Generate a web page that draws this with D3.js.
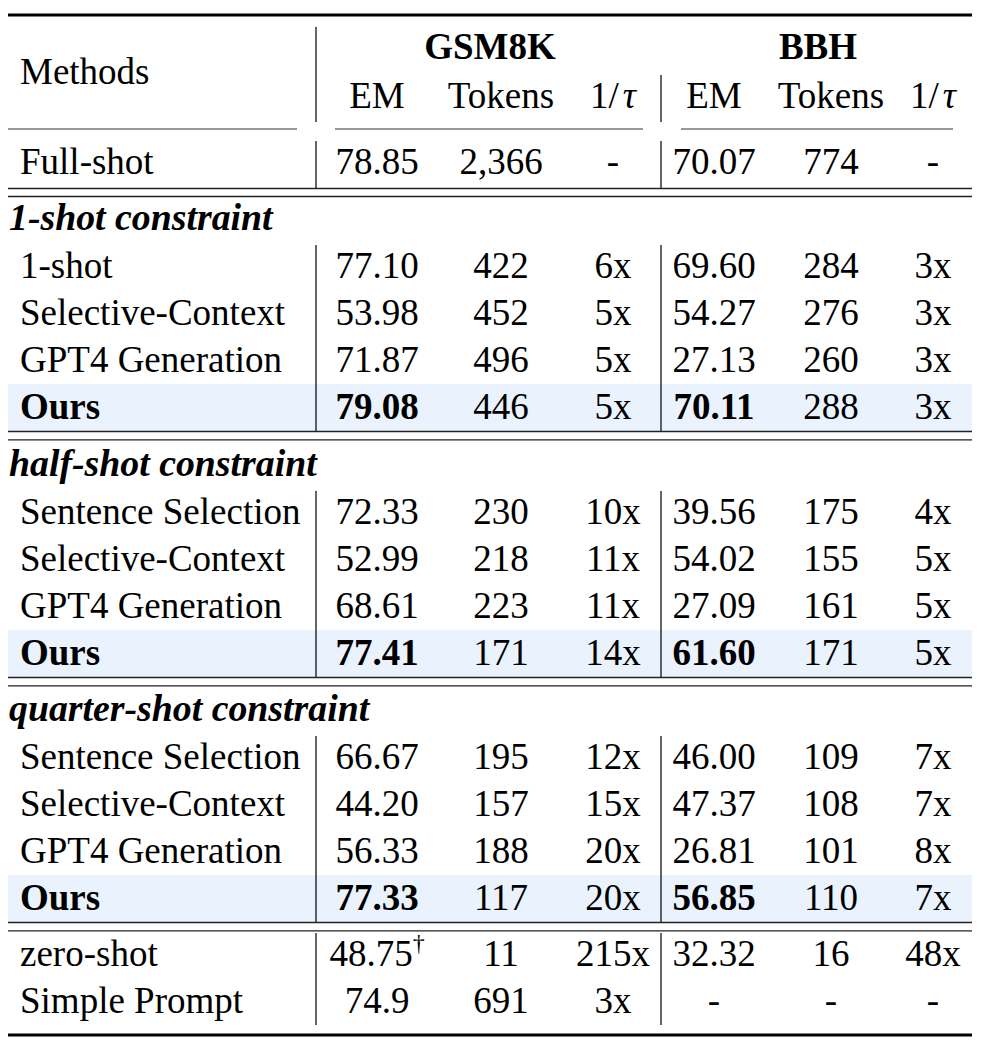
<!DOCTYPE html>
<html>
<head>
<meta charset="utf-8">
<script src="https://cdn.jsdelivr.net/npm/d3@7"></script>
<style>
  html, body { margin: 0; padding: 0; background: #fff; }
  svg { display: block; }
  text { font-family: "Liberation Serif", "Times New Roman", serif; fill: #000; }
</style>
</head>
<body>
<svg id="chart" width="990" height="1047"></svg>
<script>
// ---------------- DATA ----------------
const datasets = ["GSM8K", "BBH"];
const metrics = ["EM", "Tokens", "1/τ"];
const columnKeys = ["gEM", "gTok", "gRatio", "bEM", "bTok", "bRatio"];

const fullShotLabel = "Full-shot";
const fullShotValues = ["78.85", "2,366", "-", "70.07", "774", "-"];

const sectionTitles = ["1-shot constraint", "half-shot constraint", "quarter-shot constraint"];

const oneShotMethods = ["1-shot", "Selective-Context", "GPT4 Generation", "Ours"];
const oneShotGsmEM = [77.10, 53.98, 71.87, 79.08];
const oneShotGsmTokens = [422, 452, 496, 446];
const oneShotGsmRatio = [6, 5, 5, 5];
const oneShotBbhEM = [69.60, 54.27, 27.13, 70.11];
const oneShotBbhTokens = [284, 276, 260, 288];
const oneShotBbhRatio = [3, 3, 3, 3];

const halfShotMethods = ["Sentence Selection", "Selective-Context", "GPT4 Generation", "Ours"];
const halfShotGsmEM = [72.33, 52.99, 68.61, 77.41];
const halfShotGsmTokens = [230, 218, 223, 171];
const halfShotGsmRatio = [10, 11, 11, 14];
const halfShotBbhEM = [39.56, 54.02, 27.09, 61.60];
const halfShotBbhTokens = [175, 155, 161, 171];
const halfShotBbhRatio = [4, 5, 5, 5];

const quarterShotMethods = ["Sentence Selection", "Selective-Context", "GPT4 Generation", "Ours"];
const quarterShotGsmEM = [66.67, 44.20, 56.33, 77.33];
const quarterShotGsmTokens = [195, 157, 188, 117];
const quarterShotGsmRatio = [12, 15, 20, 20];
const quarterShotBbhEM = [46.00, 47.37, 26.81, 56.85];
const quarterShotBbhTokens = [109, 108, 101, 110];
const quarterShotBbhRatio = [7, 7, 8, 7];

const otherMethods = ["zero-shot", "Simple Prompt"];
const otherGsmEM = ["48.75", "74.9"];
const otherGsmEMNote = ["†", ""];
const otherGsmTokens = ["11", "691"];
const otherGsmRatio = ["215x", "3x"];
const otherBbhEM = ["32.32", "-"];
const otherBbhTokens = ["16", "-"];
const otherBbhRatio = ["48x", "-"];

const highlightMethod = "Ours";

// ---------------- LAYOUT ----------------
const FONT = 37;
const svg = d3.select("#chart");
const left = 8, right = 972;
const labelX = 20;
const colX = d3.scaleOrdinal().domain(columnKeys).range([377, 501, 613, 714, 831, 933]);
const groupSpan = d3.scaleOrdinal().domain(datasets).range([[335, 643], [681, 953]]);
const vLines = [316, 661];
const baseOff = 11.8;

const fmtEM = d3.format(".2f");
const fmtRatio = d => d + "x";

function buildSection(methods, gEM, gTok, gR, bEM, bTok, bR) {
  return methods.map((m, i) => ({
    method: m,
    bold: m === highlightMethod,
    cells: [
      {k: "gEM", t: fmtEM(gEM[i]), b: true},
      {k: "gTok", t: String(gTok[i])},
      {k: "gRatio", t: fmtRatio(gR[i])},
      {k: "bEM", t: fmtEM(bEM[i]), b: true},
      {k: "bTok", t: String(bTok[i])},
      {k: "bRatio", t: fmtRatio(bR[i])}
    ]
  }));
}
const sections = [
  buildSection(oneShotMethods, oneShotGsmEM, oneShotGsmTokens, oneShotGsmRatio, oneShotBbhEM, oneShotBbhTokens, oneShotBbhRatio),
  buildSection(halfShotMethods, halfShotGsmEM, halfShotGsmTokens, halfShotGsmRatio, halfShotBbhEM, halfShotBbhTokens, halfShotBbhRatio),
  buildSection(quarterShotMethods, quarterShotGsmEM, quarterShotGsmTokens, quarterShotGsmRatio, quarterShotBbhEM, quarterShotBbhTokens, quarterShotBbhRatio)
];
const otherRows = otherMethods.map((m, i) => ({
  method: m, bold: false,
  cells: [
    {k: "gEM", t: otherGsmEM[i], note: otherGsmEMNote[i]},
    {k: "gTok", t: otherGsmTokens[i]},
    {k: "gRatio", t: otherGsmRatio[i]},
    {k: "bEM", t: otherBbhEM[i]},
    {k: "bTok", t: otherBbhTokens[i]},
    {k: "bRatio", t: otherBbhRatio[i]}
  ]
}));

const gBg = svg.append("g");
const gLines = svg.append("g");
const gText = svg.append("g");

function hline(y, x1, x2, w, color) {
  gLines.append("line").attr("x1", x1).attr("x2", x2).attr("y1", y).attr("y2", y)
    .attr("stroke", color || "#000").attr("stroke-width", w);
}
function vline(x, y1, y2) {
  gLines.append("line").attr("x1", x).attr("x2", x).attr("y1", y1).attr("y2", y2)
    .attr("stroke", "#111").attr("stroke-width", 1.3);
}
function vlineSeg(a, b) { vLines.forEach(x => vline(x, a, b)); }
function drawRow(row, yc) {
  gText.append("text").attr("x", labelX).attr("y", yc + baseOff)
    .attr("font-size", FONT).attr("font-weight", row.bold ? "bold" : "normal").text(row.method);
  row.cells.forEach(c => {
    const tx = gText.append("text").attr("x", colX(c.k)).attr("y", yc + baseOff)
      .attr("text-anchor", "middle").attr("font-size", FONT)
      .attr("font-weight", row.bold && c.b ? "bold" : "normal");
    tx.append("tspan").text(c.t);
    if (c.note) {
      tx.append("tspan").attr("font-size", 24).attr("dy", -15).text(c.note);
    }
  });
}

// top rule
hline(15, left, right, 2.8);

// header
gText.append("text").attr("x", labelX).attr("y", 72 + baseOff).attr("font-size", FONT).text("Methods");
datasets.forEach(d => {
  const [a, b] = groupSpan(d);
  gText.append("text").attr("x", (a + b) / 2 + 1).attr("y", 47 + baseOff).attr("font-size", FONT)
    .attr("font-weight", "bold").attr("text-anchor", "middle").text(d);
  hline(129, a, b, 1.2, "#333");
});
hline(129, left, 297, 1.2, "#333");
const metricKeys = [["gEM", "gTok", "gRatio"], ["bEM", "bTok", "bRatio"]];
metricKeys.forEach(keys => {
  keys.forEach((k, i) => {
    const m = metrics[i];
    const tx = gText.append("text").attr("x", colX(k)).attr("y", 96 + baseOff)
      .attr("font-size", FONT).attr("text-anchor", "middle");
    if (m.includes("τ")) {
      tx.append("tspan").text("1/");
      tx.append("tspan").attr("font-style", "italic").attr("dx", 4).text("τ");
    } else {
      tx.text(m);
    }
  });
});
vline(vLines[0], 27, 122);
vline(vLines[1], 75, 122);

// full shot
drawRow({method: fullShotLabel, bold: false,
  cells: columnKeys.map((k, i) => ({k, t: fullShotValues[i]}))}, 162);
vlineSeg(141, 188);
hline(188.5, left, right, 1.3, "#222");
hline(196.5, left, right, 1.3, "#222");

// sections
const sectionTopsY = [218, 464, 709];
sections.forEach((rows, si) => {
  const hy = sectionTopsY[si];
  gText.append("text").attr("x", 9).attr("y", hy + baseOff).attr("font-size", 37.8)
    .attr("font-weight", "bold").attr("font-style", "italic").text(sectionTitles[si]);
  const y0 = hy + 48;
  const rowY = d3.scaleLinear().domain([0, 1]).range([y0, y0 + 47]);
  rows.forEach((r, i) => {
    const yc = rowY(i);
    if (r.bold) {
      gBg.append("rect").attr("x", left).attr("width", right - left)
        .attr("y", yc - 23).attr("height", 47.5).attr("fill", "#eaf2fd");
    }
    drawRow(r, yc);
  });
  const bottom = rowY(rows.length - 1) + 24.5;
  vlineSeg(y0 - 21, bottom);
  hline(bottom, left, right, 1.3, "#222");
  hline(bottom + 8.3, left, right, 1.3, "#222");
});

// other rows
const otherY = d3.scaleLinear().domain([0, 1]).range([954, 1001]);
otherRows.forEach((r, i) => drawRow(r, otherY(i)));
vlineSeg(933, 1025);

// bottom rule
hline(1035, left, right, 2.8);
</script>
</body>
</html>
